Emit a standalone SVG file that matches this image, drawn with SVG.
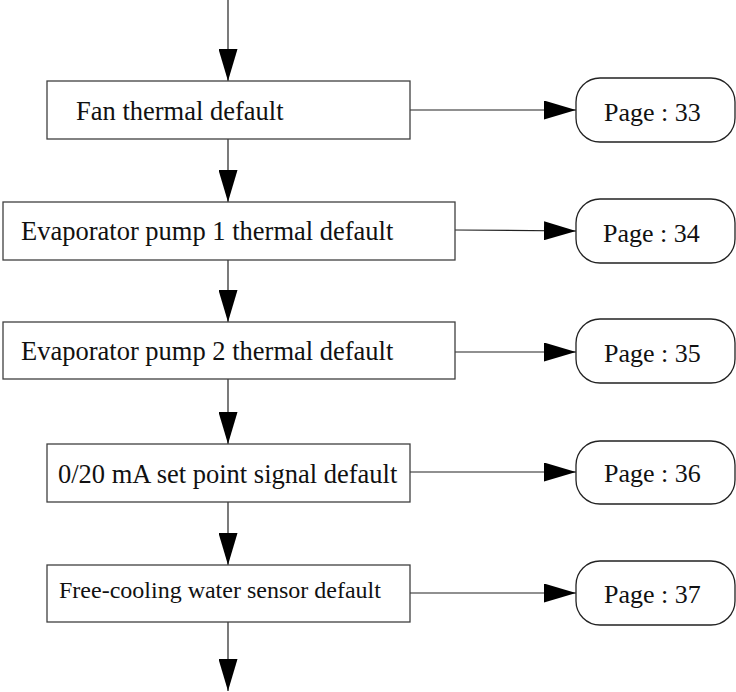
<svg xmlns="http://www.w3.org/2000/svg" width="736" height="692" viewBox="0 0 736 692">
<style>
.box{fill:#fff;stroke:#404040;stroke-width:1.3}
.term{fill:#fff;stroke:#222;stroke-width:1.3}
.lbl{font-family:"Liberation Serif","Times New Roman",serif;font-size:26.5px;fill:#111}
.pg{font-family:"Liberation Serif","Times New Roman",serif;font-size:26px;fill:#111}
.small{font-size:24px}
.ln{stroke:#222;stroke-width:1.2;fill:none}
</style>
<defs>
<marker id="ah" markerUnits="userSpaceOnUse" markerWidth="32" markerHeight="19" refX="32" refY="9.5" orient="auto">
<path d="M0,0 L32,9.5 L0,19 z" fill="#000"/>
</marker>
</defs>
<rect width="736" height="692" fill="#fff"/>
<g id="connectors">
<line class="ln" x1="228" y1="0" x2="228" y2="81" marker-end="url(#ah)"/>
<line class="ln" x1="228" y1="139" x2="228" y2="202" marker-end="url(#ah)"/>
<line class="ln" x1="228" y1="260" x2="228" y2="322" marker-end="url(#ah)"/>
<line class="ln" x1="228" y1="379" x2="228" y2="444" marker-end="url(#ah)"/>
<line class="ln" x1="228" y1="502" x2="228" y2="565" marker-end="url(#ah)"/>
<line class="ln" x1="228" y1="622" x2="228" y2="691" marker-end="url(#ah)"/>
<line class="ln" x1="410" y1="110" x2="576" y2="110" marker-end="url(#ah)"/>
<line class="ln" x1="455" y1="230" x2="576" y2="231" marker-end="url(#ah)"/>
<line class="ln" x1="455" y1="352" x2="576" y2="352" marker-end="url(#ah)"/>
<line class="ln" x1="410" y1="472" x2="576" y2="472" marker-end="url(#ah)"/>
<line class="ln" x1="410" y1="593" x2="576" y2="593" marker-end="url(#ah)"/>
</g>
<g id="n1">
<rect class="box" x="47" y="81" width="363" height="58"/>
<text class="lbl" x="76" y="120">Fan thermal default</text>
</g>
<g id="n2">
<rect class="box" x="3" y="202" width="452" height="58"/>
<text class="lbl" x="21" y="240">Evaporator pump 1 thermal default</text>
</g>
<g id="n3">
<rect class="box" x="3" y="322" width="452" height="57"/>
<text class="lbl" x="21" y="360">Evaporator pump 2 thermal default</text>
</g>
<g id="n4">
<rect class="box" x="47" y="444" width="363" height="58"/>
<text class="lbl" x="58" y="483">0/20 mA set point signal default</text>
</g>
<g id="n5">
<rect class="box" x="47" y="565" width="363" height="57"/>
<text class="lbl small" x="59" y="598">Free-cooling water sensor default</text>
</g>
<g id="p33">
<rect class="term" x="576" y="78" width="159" height="64" rx="24" ry="24"/>
<text class="pg" x="604" y="121">Page : 33</text>
</g>
<g id="p34">
<rect class="term" x="576" y="199" width="159" height="64" rx="24" ry="24"/>
<text class="pg" x="603" y="242">Page : 34</text>
</g>
<g id="p35">
<rect class="term" x="576" y="319" width="159" height="64" rx="24" ry="24"/>
<text class="pg" x="604" y="362">Page : 35</text>
</g>
<g id="p36">
<rect class="term" x="576" y="441" width="159" height="63" rx="24" ry="24"/>
<text class="pg" x="604" y="482">Page : 36</text>
</g>
<g id="p37">
<rect class="term" x="576" y="561" width="159" height="64" rx="24" ry="24"/>
<text class="pg" x="604" y="603">Page : 37</text>
</g>
</svg>
